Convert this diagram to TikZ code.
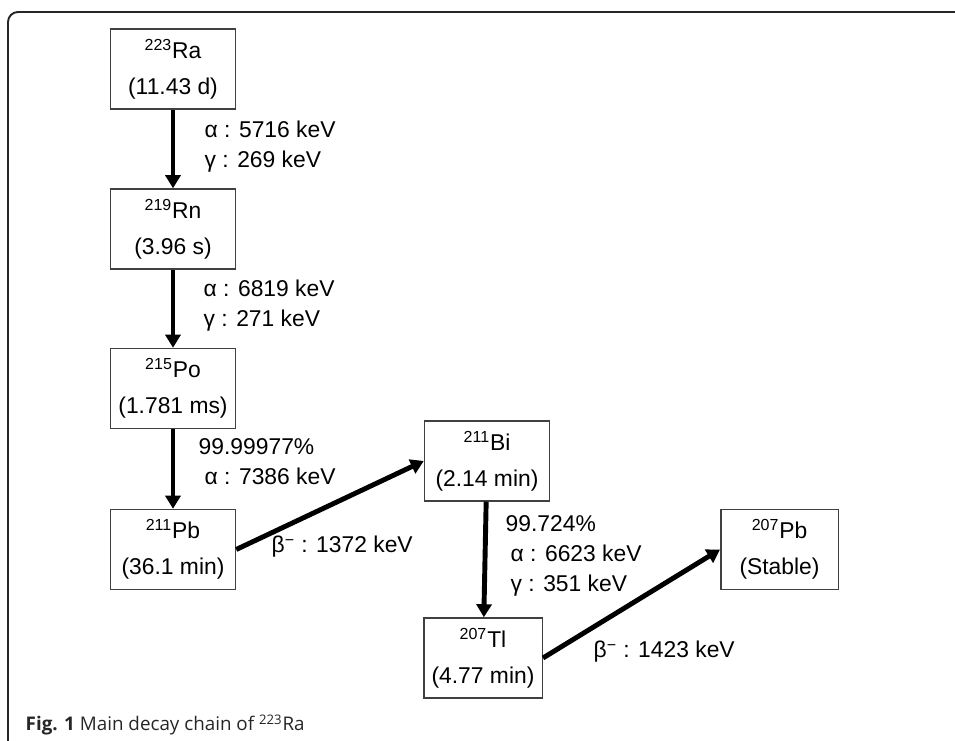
\documentclass[tikz,border=0pt]{standalone}
\usepackage{fontspec}
\setmainfont{Liberation Sans}
\newfontfamily\capfont{Open Sans}
\usetikzlibrary{arrows.meta,positioning}

\begin{document}
\begin{tikzpicture}[line width=0.8pt,
    nuclide/.style={draw=black!75, line width=0.85pt, minimum width=2.5cm, minimum height=1.6cm,
        align=center, inner sep=0pt, font=\fontsize{13}{15}\selectfont},
    decay/.style={-{Triangle[length=0.26cm,width=0.3cm]}, line width=2.8pt},
    energy/.style={anchor=west, align=left, inner sep=0pt, font=\fontsize{13}{17}\selectfont}]
        \useasboundingbox (0,0) rectangle (19.1,14.82);
        % Frame round the figure.
        \draw[line width=1.1pt, black!85, rounded corners=0.2cm] (0.16,0) -- (0.16,14.58) -- (19.1,14.58);

        % Main chain, left column.
        \node[nuclide] (ra223) at (3.46,13.44) {\textsuperscript{223}Ra\\[5.5pt](11.43 d)};
        \node[nuclide] (rn219) at (3.46,10.24) {\textsuperscript{219}Rn\\[5.5pt](3.96 s)};
        \node[nuclide] (po215) at (3.46,7.05) {\textsuperscript{215}Po\\[5.5pt](1.781 ms)};
        \node[nuclide] (pb211) at (3.46,3.83) {\textsuperscript{211}Pb\\[5.5pt](36.1 min)};

        % Second branch.
        \node[nuclide] (bi211) at (9.74,5.60) {\textsuperscript{211}Bi\\[5.5pt](2.14 min)};
        \node[nuclide, minimum width=2.37cm] (tl207) at (9.66,1.66) {\textsuperscript{207}Tl\\[5.5pt](4.77 min)};
        \node[nuclide, minimum width=2.35cm] (pb207) at (15.59,3.83) {\textsuperscript{207}Pb\\[5.5pt](Stable)};

        % Decays.
        \draw[decay] (ra223) -- (rn219);
        \draw[decay] (rn219) -- (po215);
        \draw[decay] (po215) -- (pb211);
        \draw[decay] (pb211.east) -- (bi211.west);
        \draw[decay] (bi211) -- (tl207);
        \draw[decay] (tl207.east) -- (pb207.west);

        % Energies.
        \node[energy] (e-ra) at (4.08,11.89) {α : 5716 keV\\γ : 269 keV};
        \node[energy] (e-rn) at (4.06,8.71) {α : 6819 keV\\γ : 271 keV};
        \node[energy] (e-po) at (3.96,5.58) {99.99977\%\\\hspace{0.12cm}α : 7386 keV};
        \node[energy] (e-pb) at (5.42,3.88) {β\textsuperscript{−} : 1372 keV};
        \node[energy] (e-bi) at (10.10,3.70) {99.724\%\\\hspace{0.1cm}α : 6623 keV\\\hspace{0.1cm}γ : 351 keV};
        \node[energy] (e-tl) at (11.86,1.78) {β\textsuperscript{−} : 1423 keV};

        % Caption.
        \node[anchor=base west, inner sep=0pt, text=black!85, font=\capfont\fontsize{10.7}{12}\selectfont]
        (caption) at (0.5,0.2) {\textbf{Fig. 1} Main decay chain of \textsuperscript{223}Ra};
    \end{tikzpicture}
\end{document}
